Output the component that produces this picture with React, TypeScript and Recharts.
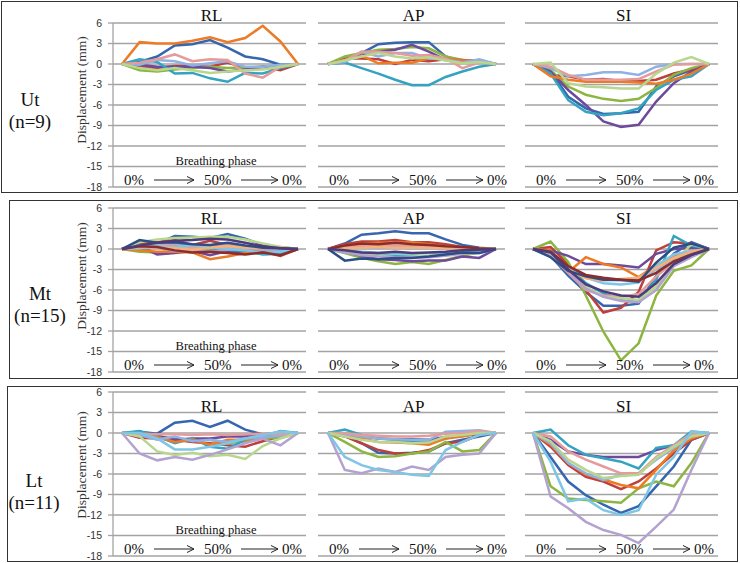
import React from "react";
import { LineChart, Line, XAxis, YAxis, ReferenceLine } from "recharts";

// breathing phase (% of cycle), 0% -> 50% -> back to 0%
const phases = [0, 10, 20, 30, 40, 50, 60, 70, 80, 90, 100];
const yTicks = [6, 3, 0, -3, -6, -9, -12, -15, -18];
const panelTitles = ["RL", "AP", "SI"];
const rowNames = ["Ut", "Mt", "Lt"];
const rowCounts = [9, 15, 11];
const phaseLabels = ["0%", "50%", "0%"];
const xTitle = "Breathing phase";
const yTitle = "Displacement (mm)";

// Ut (n=9)
const utRL = [
  [0, 0.3, 1.1, 2.7, 2.9, 3.5, 2.4, 1.1, 0.7, -0.1, 0],
  [0, -0.4, -0.6, -0.3, -0.3, -0.4, 0.2, -0.6, -0.4, -0.9, 0],
  [0, -0.9, -1.1, -0.8, -0.6, -0.4, -0.6, -0.5, -0.4, -0.5, 0],
  [0, -0.1, -0.4, -0.4, -0.4, -0.6, -1.1, -0.8, -0.4, -0.3, 0],
  [0, 0.7, 0.3, -1.4, -1.3, -2.1, -2.6, -1.3, -1.4, -0.6, 0],
  [0, 3.2, 3.0, 3.0, 3.4, 3.9, 3.2, 3.8, 5.6, 3.3, 0],
  [0, -0.1, 0.6, 0.4, -0.2, 0.1, 0.4, -0.4, -0.4, -0.1, 0],
  [0, 0.2, 0.7, 1.4, 0.4, 0.7, 0.6, -1.4, -2.0, -0.4, 0],
  [0, -0.6, -0.9, -0.6, -0.9, -1.3, -1.1, -0.9, -0.8, -0.4, 0],
];
const utAP = [
  [0, 0.6, 1.6, 2.9, 3.1, 3.2, 3.2, 1.1, 0.4, 0.4, 0],
  [0, 0.8, 0.8, 0.7, 0.0, 0.6, 0.4, 0.7, 0.4, 0.4, 0],
  [0, 1.1, 1.6, 2.1, 2.2, 2.5, 2.3, 1.1, 0.6, 0.4, 0],
  [0, 0.6, 1.2, 1.8, 2.1, 2.8, 1.8, 0.6, 0.6, 0.4, 0],
  [0, 0.2, -0.6, -1.4, -2.3, -3.1, -3.1, -1.9, -1.1, -0.4, 0],
  [0, 0.6, 1.2, 0.1, 0.2, 0.2, 0.8, 0.8, 0.5, 0.5, 0],
  [0, 0.3, 1.8, 1.1, 1.6, 1.6, 0.8, 0.7, 0.2, 0.7, 0],
  [0, 0.5, 1.8, 1.8, 1.6, 1.2, 1.3, 0.8, -0.6, 0.2, 0],
  [0, 0.5, 1.1, 1.6, 1.1, 0.8, 1.0, 0.5, 0.1, 0.3, 0],
];
const utSI = [
  [0, -1.1, -4.8, -6.5, -7.3, -7.2, -7.0, -3.3, -1.8, -0.9, 0],
  [0, -1.6, -1.8, -2.3, -2.2, -2.5, -2.5, -2.3, -1.4, -0.8, 0],
  [0, -0.9, -3.3, -4.5, -5.1, -5.4, -5.1, -3.5, -1.6, -0.6, 0],
  [0, -1.1, -3.8, -6.0, -8.4, -9.2, -8.9, -5.5, -2.8, -1.1, 0],
  [0, -1.4, -5.3, -7.0, -7.5, -7.2, -6.5, -3.8, -2.3, -1.8, 0],
  [0, -1.8, -2.3, -2.6, -2.6, -2.6, -2.7, -2.9, -2.3, -1.4, 0],
  [0, -0.6, -1.8, -1.6, -1.2, -1.2, -1.6, -0.4, 0.0, 0.0, 0],
  [0, -0.4, -1.6, -2.3, -2.3, -2.3, -2.2, -1.1, -0.1, 0.0, 0],
  [0, 0.2, -2.8, -3.3, -3.4, -3.6, -3.6, -1.4, 0.2, 1.0, 0],
];

// Mt (n=15)
const mtRL = [
  [0, 0.2, 0.8, 1.9, 1.8, 1.6, 2.2, 1.5, 0.6, -0.1, 0],
  [0, 0.8, 1.0, 1.3, 0.6, 1.2, 0.6, 0.3, -0.4, -1.0, 0],
  [0, -0.4, -0.5, -0.3, -0.2, -0.3, -0.5, -0.3, -0.2, -0.3, 0],
  [0, 0.4, -0.8, -0.6, -0.3, -0.9, -0.3, -0.5, -0.5, -0.8, 0],
  [0, -0.1, 0.3, 0.4, 0.2, 0.1, -0.1, -0.3, -0.8, -0.7, 0],
  [0, -0.2, -0.4, -0.4, -0.5, -1.5, -1.1, -0.6, 0.2, 0.3, 0],
  [0, 0.3, 0.6, 0.8, 0.5, 0.4, 0.3, 0.2, 0.0, -0.2, 0],
  [0, 0.5, 0.7, 0.4, 0.2, 0.4, 0.6, 0.3, 0.2, 0.1, 0],
  [0, 1.0, 1.4, 1.6, 1.7, 1.8, 1.8, 1.4, 0.8, 0.3, 0],
  [0, 0.2, 0.2, -0.3, -0.2, -0.4, -0.1, 0.1, -0.1, 0.0, 0],
  [0, 0.1, 0.5, 0.2, 0.6, 0.3, 0.0, -0.2, -0.6, -0.4, 0],
  [0, 0.3, 0.2, 0.1, -0.1, 0.2, 0.4, 0.2, 0.1, 0.2, 0],
  [0, 1.3, 0.9, 1.0, 0.7, 0.6, 0.9, 0.5, 0.2, 0.1, 0],
  [0, 0.4, 0.3, -0.2, -0.5, -0.4, -0.6, -0.8, -0.5, -0.9, 0],
  [0, 0.5, 0.9, 1.2, 1.3, 1.5, 1.4, 0.9, 0.4, 0.1, 0],
];
const mtAP = [
  [0, 0.8, 2.1, 2.3, 2.6, 2.3, 2.3, 1.4, 0.6, 0.2, 0],
  [0, 0.7, 1.1, 1.1, 1.3, 1.0, 1.0, 0.7, 0.3, 0.1, 0],
  [0, -0.6, -1.3, -1.8, -2.2, -1.9, -2.2, -1.6, -1.0, -0.5, 0],
  [0, -0.4, -1.0, -1.5, -1.6, -1.8, -1.7, -1.7, -1.1, -1.3, 0],
  [0, -0.3, -0.6, -0.9, -1.0, -1.0, -1.1, -0.9, -0.3, -0.2, 0],
  [0, 0.5, 0.8, 0.9, 0.9, 1.0, 0.7, 0.4, 0.2, 0.1, 0],
  [0, 0.2, 0.3, 0.2, 0.3, 0.1, 0.2, 0.1, 0.0, 0.1, 0],
  [0, 0.3, 0.5, 0.6, 0.5, 0.4, 0.4, 0.3, 0.1, 0.0, 0],
  [0, -0.3, -0.8, -1.0, -1.2, -1.1, -1.0, -0.7, -0.1, 0.1, 0],
  [0, -0.5, -0.9, -1.1, -1.2, -1.2, -1.2, -1.0, -0.7, -0.6, 0],
  [0, -0.2, -0.4, -0.6, -0.6, -0.7, -0.6, -0.5, -0.3, -0.1, 0],
  [0, 0.1, 0.2, 0.3, 0.2, 0.2, 0.2, 0.1, 0.1, 0.0, 0],
  [0, -1.7, -1.4, -1.5, -1.3, -1.3, -1.1, -0.8, -0.5, -0.6, 0],
  [0, 0.5, 0.8, 0.7, 0.9, 0.7, 0.6, 0.4, 0.3, 0.1, 0],
  [0, -0.2, -0.5, -0.6, -0.4, -0.6, -0.5, -0.4, -0.2, -0.1, 0],
];
const mtSI = [
  [0, -1.0, -3.9, -6.3, -8.3, -8.3, -8.0, -3.9, -0.7, 1.0, 0],
  [0, 0.3, -2.2, -6.0, -9.3, -8.6, -6.3, -0.2, 1.0, 0.8, 0],
  [0, 1.1, -1.9, -6.8, -12.1, -16.3, -13.8, -6.8, -3.2, -2.4, 0],
  [0, -0.2, -1.0, -2.2, -2.2, -2.4, -2.7, -0.7, 0.0, 0.2, 0],
  [0, -0.5, -2.5, -5.0, -6.5, -7.3, -7.5, -4.5, 1.9, 0.5, 0],
  [0, -0.2, -3.4, -1.2, -2.2, -2.7, -4.1, -2.4, -1.0, -0.3, 0],
  [0, -0.8, -3.0, -4.0, -4.5, -4.6, -4.5, -3.0, -1.5, -0.5, 0],
  [0, -1.0, -3.5, -6.0, -6.8, -7.0, -6.6, -4.0, -2.0, -1.0, 0],
  [0, -0.5, -2.5, -5.5, -7.0, -7.2, -7.5, -5.5, -2.0, 0.7, 0],
  [0, -1.0, -3.2, -5.8, -7.0, -7.6, -7.8, -6.0, -2.5, -1.2, 0],
  [0, -0.7, -2.8, -4.2, -5.0, -5.2, -4.9, -2.5, -0.8, -0.3, 0],
  [0, -0.6, -3.0, -4.3, -4.6, -4.4, -4.2, -2.8, -1.3, -0.4, 0],
  [0, -1.2, -3.2, -4.0, -4.5, -4.5, -4.8, -2.0, 0.2, 0.8, 0],
  [0, -0.4, -2.5, -3.8, -4.2, -4.5, -4.6, -3.5, -1.8, -0.8, 0],
  [0, -0.5, -3.0, -5.2, -6.2, -6.8, -7.0, -5.0, -2.2, -0.9, 0],
];

// Lt (n=11)
const ltRL = [
  [0, 0.2, -0.1, 1.5, 1.8, 0.9, 1.8, 0.5, -0.2, -0.1, 0],
  [0, -0.7, -0.8, -1.0, -1.3, -1.5, -1.8, -2.0, -1.2, -0.5, 0],
  [0, -0.3, -0.5, -0.8, -1.0, -1.0, -1.5, -1.2, -0.8, -0.7, 0],
  [0, -0.3, -0.4, -1.0, -0.8, -0.8, -0.5, -0.5, -0.3, -0.2, 0],
  [0, 0.3, -0.5, -1.5, -0.8, -2.0, -2.3, -1.0, -0.5, 0.3, 0],
  [0, -0.2, -0.6, -1.3, -1.0, -1.7, -1.0, -1.0, -0.5, -0.3, 0],
  [0, -0.3, -1.0, -0.5, -1.2, -1.0, -1.3, -0.8, -0.6, -0.4, 0],
  [0, -0.1, -0.2, -0.2, -0.3, -0.2, -0.3, -0.2, -0.1, -0.1, 0],
  [0, -0.5, -2.7, -3.2, -2.9, -3.4, -3.2, -3.8, -1.9, -0.8, 0],
  [0, -3.0, -4.0, -3.5, -3.9, -3.2, -2.4, -1.5, -0.8, -1.8, 0],
  [0, 0.0, -0.8, -2.4, -2.4, -2.0, -1.5, -0.8, -0.3, 0.2, 0],
];
const ltAP = [
  [0, -0.4, -1.5, -2.9, -3.0, -2.9, -2.7, -1.5, -1.0, -0.5, 0],
  [0, -0.5, -1.5, -2.5, -3.0, -3.0, -2.5, -1.5, -1.3, -0.3, 0],
  [0, -1.3, -2.7, -3.5, -3.4, -3.0, -2.7, -1.3, -2.7, -2.5, 0],
  [0, -0.2, -0.5, -0.8, -0.9, -0.9, -1.0, -0.6, -0.4, -0.2, 0],
  [0, 0.5, -0.3, -0.8, -1.0, -1.3, -1.3, -0.8, -0.3, 0.0, 0],
  [0, -0.3, -0.8, -1.3, -1.4, -1.5, -1.7, -0.8, -0.5, 0.0, 0],
  [0, -0.2, -0.5, -0.8, -0.9, -1.0, -1.0, 0.2, 0.3, 0.4, 0],
  [0, 0.0, -0.3, -0.4, -0.5, -0.5, -0.4, -0.1, 0.0, 0.3, 0],
  [0, -0.5, -1.0, -1.3, -1.3, -1.5, -1.4, -0.5, -0.3, 0.0, 0],
  [0, -5.4, -5.9, -5.2, -5.7, -4.9, -5.4, -3.5, -3.2, -3.0, 0],
  [0, -3.5, -4.7, -5.4, -5.7, -6.1, -6.3, -2.5, -1.3, -0.3, 0],
];
const ltSI = [
  [0, -3.5, -7.1, -9.1, -10.5, -11.7, -10.7, -7.8, -4.9, -1.0, 0],
  [0, -2.0, -4.7, -6.4, -7.1, -8.2, -7.1, -5.2, -3.0, -1.0, 0],
  [0, -7.8, -9.6, -9.8, -10.0, -10.2, -8.1, -7.1, -7.8, -4.4, 0],
  [0, -1.0, -2.7, -3.2, -3.5, -3.5, -3.5, -2.5, -1.8, -0.5, 0],
  [0, 0.5, -1.8, -3.2, -3.7, -4.2, -5.2, -2.2, -1.8, 0.2, 0],
  [0, -1.7, -4.4, -6.1, -6.8, -7.6, -8.1, -5.4, -2.5, -0.8, 0],
  [0, -1.5, -4.4, -5.9, -6.9, -6.1, -5.9, -3.9, -2.2, -0.5, 0],
  [0, -0.5, -2.7, -3.9, -4.9, -5.9, -5.9, -3.5, -1.8, -0.1, 0],
  [0, -1.2, -3.9, -5.4, -6.6, -6.3, -6.1, -3.7, -2.0, -0.5, 0],
  [0, -9.3, -11.0, -13.0, -14.2, -14.9, -16.1, -13.7, -11.2, -5.4, 0],
  [0, -4.2, -10.0, -9.6, -11.3, -12.0, -11.3, -6.1, -3.5, 0.2, 0],
];

const rowSeries = [
  [utRL, utAP, utSI],
  [mtRL, mtAP, mtSI],
  [ltRL, ltAP, ltSI],
];

const palette = [
  "#3566AE", "#BE3F3B", "#8DB541", "#6D4A9C", "#33A3C1", "#EC7A26",
  "#8FB1E3", "#E39C9B", "#B8D68E", "#B3A2D0", "#7FC5E6", "#F6B07A",
  "#2C4D85", "#8B2E2B", "#4D3B7A",
];

const PLOT_H = 164;
const PAD = 5;
const AXIS_W = 63;
const GRID = "#A3A3A3";
const SERIF = "'Liberation Serif', 'Times New Roman', serif";
const SANS = "'Liberation Sans', Arial, sans-serif";

const panels = [
  { left: 113, width: 193, padL: 9, padR: 8 },
  { left: 318, width: 187, padL: 10, padR: 9 },
  { left: 525, width: 193, padL: 8, padR: 9 },
];

const rows = [
  { y6: 23, box: [1, 1, 737, 192], titleBase: 20.5, nameX: 30, nameBase: 106, countBase: 128, ylabY: 90 },
  { y6: 208, box: [9, 200, 729, 179], titleBase: 223.5, nameX: 40, nameBase: 300, countBase: 322, ylabY: 276 },
  { y6: 392, box: [7, 386, 731, 176], titleBase: 412, nameX: 34, nameBase: 487, countBase: 509, ylabY: 465 },
];

function toRows(series: number[][]) {
  return phases.map((p, i) => {
    const r: Record<string, number> = { phase: p };
    series.forEach((s, k) => {
      r["s" + k] = s[i];
    });
    return r;
  });
}

function Panel({ series, top, p, withAxis }: { series: number[][]; top: number; p: typeof panels[0]; withAxis: boolean }) {
  const left = withAxis ? p.left - AXIS_W : p.left;
  const width = withAxis ? p.width + AXIS_W : p.width;
  return (
    <div style={{ position: "absolute", left, top: top - PAD }}>
      <LineChart width={width} height={PLOT_H + PAD * 2} data={toRows(series)} margin={{ top: PAD, right: 0, bottom: PAD, left: 0 }}>
        <XAxis dataKey="phase" type="number" domain={[0, 100]} hide padding={{ left: p.padL, right: p.padR }} />
        <YAxis
          type="number"
          domain={[-18, 6]}
          ticks={yTicks}
          hide={!withAxis}
          width={AXIS_W}
          interval={0}
          tickSize={5}
          tickMargin={6}
          axisLine={{ stroke: GRID, strokeWidth: 1.3 }}
          tickLine={{ stroke: GRID, strokeWidth: 1.3 }}
          tick={{ fontSize: 10.5, fill: "#333", fontFamily: SANS }}
        />
        {yTicks.map((t) => (
          <ReferenceLine key={t} y={t} stroke={GRID} strokeWidth={1.3} />
        ))}
        {series.map((_, k) => (
          <Line
            key={k}
            type="linear"
            dataKey={"s" + k}
            stroke={palette[k]}
            strokeWidth={2.5}
            dot={false}
            isAnimationActive={false}
          />
        ))}
      </LineChart>
    </div>
  );
}

function Arrow({ x1, x2, y }: { x1: number; x2: number; y: number }) {
  return (
    <g stroke="#222" strokeWidth={1} fill="none">
      <line x1={x1} y1={y} x2={x2} y2={y} />
      <polyline points={`${x2 - 7},${y - 3.5} ${x2},${y} ${x2 - 7},${y + 3.5}`} />
    </g>
  );
}

function Overlay() {
  const unit = PLOT_H / 24;
  return (
    <svg width={740} height={563} style={{ position: "absolute", left: 0, top: 0, pointerEvents: "none" }}>
      {rows.map((r, ri) => {
        const y18 = r.y6 + 24 * unit;
        const y15 = r.y6 + 21 * unit;
        return (
          <g key={ri}>
            <text x={r.nameX} y={r.nameBase} textAnchor="middle" fontFamily={SERIF} fontSize={19} fill="#111">
              {rowNames[ri]}
            </text>
            <text x={r.nameX} y={r.countBase} textAnchor="middle" fontFamily={SERIF} fontSize={19} fill="#111">
              {`(n=${rowCounts[ri]})`}
            </text>
            <text
              x={0}
              y={0}
              transform={`translate(86, ${r.ylabY}) rotate(-90)`}
              textAnchor="middle"
              fontFamily={SERIF}
              fontSize={13.5}
              fill="#333"
            >
              {yTitle}
            </text>
            <text x={216} y={y15 - 2} textAnchor="middle" fontFamily={SERIF} fontSize={12.5} fill="#111">
              {xTitle}
            </text>
            {panels.map((p, pi) => (
              <g key={pi}>
                <text x={p.left + p.width / 2 + 2} y={r.titleBase} textAnchor="middle" fontFamily={SERIF} fontSize={17} fill="#111">
                  {panelTitles[pi]}
                </text>
                <text x={p.left + 11} y={y18 - 2} fontFamily={SERIF} fontSize={15} fill="#111">
                  {phaseLabels[0]}
                </text>
                <Arrow x1={p.left + 41} x2={p.left + 81} y={y18 - 7} />
                <text x={p.left + 91} y={y18 - 2} fontFamily={SERIF} fontSize={15} fill="#111">
                  {phaseLabels[1]}
                </text>
                <Arrow x1={p.left + 128} x2={p.left + 165} y={y18 - 7} />
                <text x={p.left + 169} y={y18 - 2} fontFamily={SERIF} fontSize={15} fill="#111">
                  {phaseLabels[2]}
                </text>
              </g>
            ))}
          </g>
        );
      })}
    </svg>
  );
}

export default function App() {
  return (
    <div style={{ position: "absolute", left: 0, top: 0, width: 740, height: 563, background: "#fff", overflow: "hidden" }}>
      {rows.map((r, ri) => (
        <div
          key={"box" + ri}
          style={{
            position: "absolute",
            left: r.box[0],
            top: r.box[1],
            width: r.box[2],
            height: r.box[3],
            border: "1.5px solid #333",
            boxSizing: "border-box",
          }}
        />
      ))}
      {rows.map((r, ri) =>
        panels.map((p, pi) => (
          <Panel key={ri + "-" + pi} series={rowSeries[ri][pi]} top={r.y6} p={p} withAxis={pi === 0} />
        ))
      )}
      <Overlay />
    </div>
  );
}
